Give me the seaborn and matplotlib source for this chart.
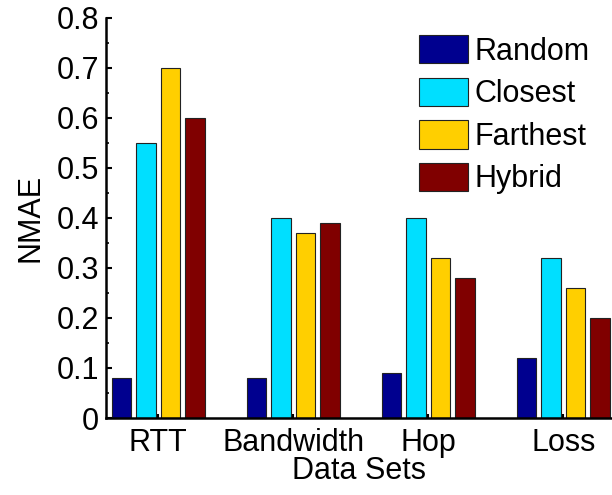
import matplotlib
matplotlib.use("Agg")
import matplotlib.pyplot as plt
import seaborn as sns
import pandas as pd
import numpy as np

datasets = ["RTT", "Bandwidth", "Hop", "Loss"]
methods = ["Random", "Closest", "Farthest", "Hybrid"]
random_vals = [0.08, 0.08, 0.09, 0.12]
closest_vals = [0.55, 0.40, 0.40, 0.32]
farthest_vals = [0.70, 0.37, 0.32, 0.26]
hybrid_vals = [0.60, 0.39, 0.28, 0.20]
colors = ["#00008F", "#00DFFF", "#FFCF00", "#800000"]
yticks = [0, 0.1, 0.2, 0.3, 0.4, 0.5, 0.6, 0.7, 0.8]
ytick_labels = ["0", "0.1", "0.2", "0.3", "0.4", "0.5", "0.6", "0.7", "0.8"]

series = [random_vals, closest_vals, farthest_vals, hybrid_vals]
rows = []
for m, vals in zip(methods, series):
    for d, v in zip(datasets, vals):
        rows.append({"Data Sets": d, "Method": m, "NMAE": v})
df = pd.DataFrame(rows)

sns.set_style("ticks")
plt.rcParams["font.family"] = ["Liberation Sans", "DejaVu Sans"]
plt.rcParams["text.color"] = "black"
plt.rcParams["axes.labelcolor"] = "black"
plt.rcParams["xtick.color"] = "black"
plt.rcParams["ytick.color"] = "black"
FS = 22

fig = plt.figure(figsize=(6.12, 4.95), dpi=100)
ax = fig.add_axes([106 / 612, 1 - 418 / 495, 1 - 106 / 612, (418 - 17.5) / 495])

sns.barplot(data=df, x="Data Sets", y="NMAE", hue="Method", order=datasets,
            hue_order=methods, palette=colors, saturation=1, width=0.726, gap=0.2,
            edgecolor="#222222", linewidth=0.8, ax=ax, legend=True)

ax.set_xlim(-0.387, 3.361)
ax.set_ylim(0, 0.8)
ax.set_yticks(yticks)
ax.set_yticklabels(ytick_labels)
ax.set_yticks(np.arange(0.05, 0.8, 0.1), minor=True)
ax.tick_params(axis="y", which="major", direction="in", length=4, width=1.5,
               labelsize=FS, pad=5, colors="black")
ax.tick_params(axis="y", which="minor", direction="in", length=2.5, width=1.2,
               colors="black")
ax.tick_params(axis="x", which="major", direction="in", length=3, width=1.5,
               labelsize=FS, pad=7, colors="black")
ax.set_xlabel("Data Sets", fontsize=FS, labelpad=-1.5, color="black")
ax.set_ylabel("NMAE", fontsize=FS, labelpad=8, color="black")

for side in ["top", "right"]:
    ax.spines[side].set_visible(False)
for side in ["left", "bottom"]:
    ax.spines[side].set_linewidth(1.8)
    ax.spines[side].set_color("black")

handles, labels = ax.get_legend_handles_labels()
leg = ax.legend(handles, labels, loc="upper left", frameon=False, fontsize=FS,
                bbox_to_anchor=(419 / 612, 1 - 35 / 495), bbox_transform=fig.transFigure,
                borderpad=0, borderaxespad=0, handlelength=1.6, handleheight=1.05,
                handletextpad=0.23, labelspacing=0.36)
for t in leg.get_texts():
    t.set_color("black")

fig.savefig("out.png", dpi=100)
